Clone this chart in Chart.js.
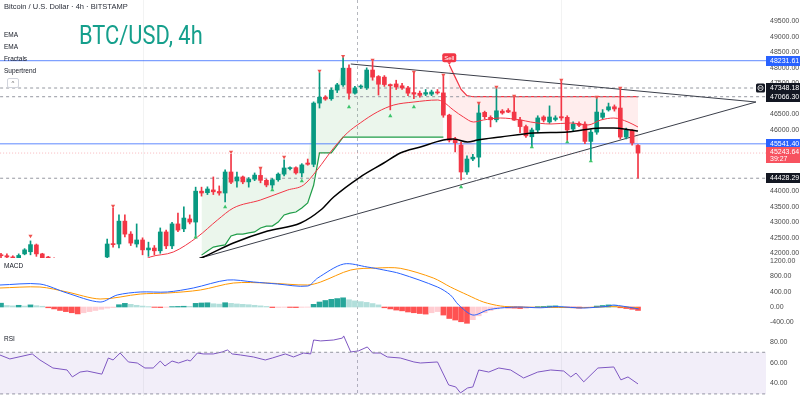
<!DOCTYPE html>
<html>
<head>
<meta charset="utf-8">
<title>BTC/USD 4h</title>
<script src="https://cdn.jsdelivr.net/npm/chart.js@4.4.1/dist/chart.umd.min.js"></script>
<style>
  html, body { margin: 0; padding: 0; background: #fff; }
  body { position: relative; width: 800px; height: 396px; overflow: hidden; font-family: "Liberation Sans", Arial, sans-serif; color: #131722; }
  canvas { position: absolute; left: 0; }
  .lbl { position: absolute; white-space: nowrap; line-height: 1; }
  .btn { position: absolute; left: 7px; top: 78px; width: 10px; height: 8px; border: 1px solid #d1d4dc; border-radius: 2px; font-size: 6px; text-align: center; line-height: 9px; color: #555; }
</style>
</head>
<body>
<canvas id="mainChart" width="800" height="258" style="top:0"></canvas>
<canvas id="macdChart" width="800" height="72" style="top:258px"></canvas>
<canvas id="rsiChart" width="800" height="66" style="top:330px"></canvas>

<div class="lbl" style="left:4px;top:3px;font-size:7.5px;color:#2a2e39">Bitcoin / U.S. Dollar · 4h · BITSTAMP</div>
<div class="lbl" style="left:79px;top:22px;font-size:26px;font-family:Roboto;color:#159f8c;transform:scaleX(.84);transform-origin:0 0">BTC/USD, 4h</div>
<div class="lbl" style="left:4px;top:32px;font-size:6.5px">EMA</div>
<div class="lbl" style="left:4px;top:44px;font-size:6.5px">EMA</div>
<div class="lbl" style="left:4px;top:56px;font-size:6.5px">Fractals</div>
<div class="lbl" style="left:4px;top:68px;font-size:6.5px">Supertrend</div>
<div class="btn">^</div>
<div class="lbl" style="left:4px;top:263px;font-size:6.5px">MACD</div>
<div class="lbl" style="left:4px;top:336px;font-size:6.5px">RSI</div>

<script>
// candles, index 0..108 (4h bars)
var opens = [41950,41920,41880,41820,41980,42050,42270,41980,41850,41820,
  41600,41400,41200,41300,41150,41250,41400,41450,41880,42300,
  42300,43040,42620,42300,42430,42110,42170,42080,42690,42240,
  42950,42790,43110,43010,44010,43960,44050,44000,43950,44630,
  44340,44470,44310,44400,44520,44360,44210,44380,44560,44740,
  44770,44600,44920,44880,46860,47050,47000,47280,47450,47990,
  47180,47380,47350,47930,47720,47700,47460,47480,47420,47350,
  47200,47180,47150,47150,47220,47190,46470,45700,45500,44630,
  45050,45110,46560,46400,46320,46600,46620,46570,46310,46100,
  45770,45990,46410,46250,46330,46420,46400,46020,46200,46180,
  45620,45920,46400,46640,46740,46700,45760,45980,45490];
var highs = [42000,41980,41920,41980,42150,42400,42300,42000,41900,41850,
  41650,41450,41350,41350,41300,41450,41550,41750,42460,43460,
  43240,43240,42700,42950,42500,42360,42250,42820,42750,43000,
  43300,43500,43240,44140,44140,44150,44470,44180,44700,45200,
  44630,44500,44450,44600,44760,44400,44420,44600,45020,44800,
  44800,44900,45050,46900,47850,47100,47350,47500,48330,48100,
  47400,47450,48000,48200,47750,47750,47480,47600,47500,47400,
  47850,47250,47300,47280,47300,47750,46500,45750,45600,45150,
  45200,46850,46600,46450,47360,46650,46680,47070,46400,46150,
  46050,46450,46450,46770,46450,47590,46450,46250,46250,46250,
  46000,47040,46650,46860,46800,47330,46050,46000,45520];
var lows = [41850,41800,41780,41760,41950,41950,41900,41800,41700,41550,
  41350,41150,41100,41050,41050,41200,41300,41400,41800,42200,
  42170,42530,42250,42200,41950,41900,41950,42000,42150,42150,
  42700,42700,42950,42550,43850,43900,43900,43880,43660,44250,
  44140,44250,44140,44350,44280,44150,44100,44330,44500,44700,
  44560,44470,44850,44800,46700,46950,46950,47200,47400,46990,
  47150,47330,47300,47600,47120,47400,46640,47300,47300,47100,
  47000,47050,47100,47100,47150,46400,45600,45280,44370,44550,
  45000,44790,46350,46090,46250,46500,46550,46300,45900,45750,
  45480,45900,46250,46200,46280,46300,45650,45950,46100,45550,
  45030,45850,46350,46600,46600,45700,45700,45500,44428.29];
var closes = [41920,41880,41850,41930,42110,42280,41980,41850,41820,41600,
  41400,41200,41300,41150,41250,41400,41450,41700,42300,42280,
  43040,42620,42330,42430,42110,42170,42080,42690,42240,42950,
  42750,43140,43010,44010,43950,44080,43990,43950,44630,44300,
  44470,44310,44400,44530,44360,44210,44380,44560,44760,44770,
  44600,44860,44880,46860,47050,46990,47280,47450,47990,47180,
  47350,47390,47930,47700,47470,47460,47420,47380,47350,47180,
  47150,47110,47200,47220,47190,46470,45660,45580,44630,45050,
  45110,46540,46420,46320,46610,46540,46570,46310,46100,45800,
  45990,46380,46310,46410,46380,46380,45990,46180,46140,45620,
  45920,46570,46540,46740,46670,45760,45990,45570,45243.64];

// EMA lines (x = bar index)
var emaFastX = [23.6,25.3,29.2,33.3,36.7,39.4,44.0,48.6,51.3,53.6,56.4,58.7,60.9,63.8,66.6,70.0,74.0,75.0,76.7,78.4,80.1,81.8,84.7,88.1,89.8,93.2,96.6,99.5,101.7,103.9,106.3,108.0];
var emaFastY = [41717,41880,42040,42527,43077,43465,43724,44047,44209,44695,45407,45892,46216,46572,46798,46895,46960,46895,46636,46410,46248,46313,46377,46313,46248,46183,46216,46151,46313,46377,46248,46086];
var emaSlowX = [32.1,34.3,39.4,45.2,50.8,54.2,56.4,60.9,64.9,67.7,71.1,75.0,76.7,79.1,80.8,84.7,90.3,96.1,101.7,103.9,106.8,108.0];
var emaSlowY = [41717,41880,42333,42720,42980,43400,43821,44468,44921,45245,45439,45665,45698,45600,45665,45762,45892,45924,46054,46054,45989,45957];

// supertrend
var stUpStart = 34;
var stUp = [41940,42070,42200,42240,42270,42560,42620,42620,42660,42690,
  42820,42880,42880,43010,43240,43300,43335,43465,43630,44200,
  45250,45250,45250,45500,45760,45760,45760,45760,45760,45760,
  45760,45760,45760,45760,45760,45760,45760,45760,45760,45760,
  45760,45760];
var stDownStart = 76;
var stDown = [48100,47700,47300,47100,47066,47066,47066,47066,47066,47066,
  47066,47066,47066,47066,47066,47066,47066,47066,47066,47066,
  47066,47066,47066,47066,47066,47066,47066,47066,47066,47066,
  47066,47066,47066];

// fractals
var fracHighX = [5,19,39,44,48,54,58,63,70,75,81,84,87,95,101,105];
var fracHighY = [42560,43530,45280,44760,45115,47900,48380,48254,47866,47770,46863,47380,47090,47607,47057,47348];
var fracLowX = [33,38,46,51,59,66,70,78,90,96,100];
var fracLowY = [42520,43497,44047,44338,46733,46442,46733,44145,45440,45600,44985];

// drawn levels and trend lines
var blueLevels = [48231.61, 45541.40];
var dashLevels = [47348.18, 47066.30, 44428.29];
var lastPrice = 45243.64;
var countdown = '39:27';
var upperTrendX = [59.3, 128.0], upperTrendY = [48125, 46895];
var lowerTrendX = [25.0, 128.0], lowerTrendY = [41374, 46895];
var crossX = 60.3;
var gridX = [24, 95];

// axis ticks
var priceTicks = [42000,42500,43000,43500,44000,44500,45000,45500,46000,46500,47000,47500,48000,48500,49000,49500];
var macdTicks = [-400, 0, 400, 800, 1200];
var rsiTicks = [40, 60, 80];

// MACD
var macdHist = [100,40,30,45,25,55,35,20,-20,-50,
  -90,-120,-150,-180,-150,-120,-90,-60,-30,-15,
  60,95,70,45,25,10,-10,-15,-8,10,
  15,20,18,95,105,110,85,75,112,95,
  80,70,60,45,30,15,-15,-12,-8,-12,
  -15,-8,-5,70,130,170,200,220,240,190,
  160,140,120,90,55,-20,-50,-80,-100,-130,
  -150,-170,-185,-150,-120,-210,-300,-340,-385,-425,
  -330,-230,-150,-90,-50,-20,-25,-30,-40,-35,
  -15,10,15,25,30,20,-15,-20,-30,-25,
  -10,25,40,55,50,-20,-40,-60,-90];
var macdX = [-0.2,6.6,11.2,16.8,19.7,23.6,28.2,32.6,38.4,42.8,46.9,52.0,53.7,58.1,62.1,64.9,67.7,74.0,76.2,77.6,80.0,82.5,84.7,87.6,91.5,94.1,96.6,98.8,102.9,103.9,107.3,108.1];
var macdY = [574,600,365,130,313,392,392,496,705,653,600,548,757,1122,1044,966,870,522,313,52,-209,-78,-26,0,-20,10,-10,-26,20,50,-26,-50];
var signalX = [-0.2,6.6,11.2,16.8,23.6,28.2,33.8,39.4,45.2,52.0,54.2,59.3,63.8,67.7,73.3,76.2,79.1,81.8,84.7,87.6,93.2,98.8,103.4,108.1];
var signalY = [496,522,392,209,339,365,444,626,626,574,653,966,1018,1010,757,522,313,130,26,0,-10,-15,10,-20];

// RSI
var rsiX = [-0.2,1.5,5.3,6.6,8.8,11.2,12.1,13.4,14.6,17.1,18.2,19.0,20.2,21.6,23.1,24.4,25.8,27.0,27.8,29.0,
  30.1,31.6,32.1,33.3,34.3,36.0,37.5,38.4,39.2,40.6,42.8,44.8,46.0,48.2,49.6,51.3,52.5,53.0,54.2,56.4,
  57.9,58.1,59.3,60.6,62.1,63.0,64.3,65.5,67.7,70.0,71.1,74.0,75.9,77.1,77.9,79.1,80.0,81.0,82.7,84.4,
  86.4,88.6,91.0,93.2,95.4,96.6,97.5,98.8,101.2,103.9,105.1,106.3,108.0];
var rsiY = [67.4,63.6,68.4,62.6,54.9,53.0,46.3,51.0,52.0,49.0,64.5,62.6,69.3,60.7,59.7,54.9,54.9,61.6,56.8,61.6,
  59.7,62.6,61.6,69.3,68.4,68.4,70.3,72.2,68.4,67.4,65.5,62.6,64.5,68.4,65.5,69.3,68.4,81.8,80.9,81.8,
  83.7,85.7,70.3,71.3,75.1,69.3,69.3,65.5,64.5,60.7,59.7,60.7,38.6,36.7,31.0,35.7,36.7,53.0,51.0,54.9,
  53.0,45.3,51.0,53.0,52.0,46.3,50.0,41.6,54.9,55.9,43.5,46.3,39.6];

var UP = '#089981', DOWN = '#f23645';
var xMin = -0.17, xMax = 129.7;

function pts(xs, ys) { return xs.map(function (x, k) { return { x: x, y: ys[k] }; }); }
function flat(v) { return [{ x: xMin - 1, y: v }, { x: xMax + 1, y: v }]; }
function line(data, color, width, extra) {
  var d = { type: 'line', data: data, borderColor: color, borderWidth: width, pointRadius: 0, pointHoverRadius: 0, fill: false };
  for (var k in extra) d[k] = extra[k];
  return d;
}

function yAxis(min, max, tickList) {
  return {
    position: 'right', min: min, max: max,
    grid: { display: false, drawTicks: false }, border: { display: false },
    ticks: {
      autoSkip: false, padding: 4, color: '#4a4a4a',
      font: { size: 7, family: 'Liberation Sans' },
      callback: function (v) { return v.toFixed(2); }
    },
    afterBuildTicks: function (a) {
      a.ticks = tickList.map(function (v) { return { value: v }; });
    },
    afterFit: function (a) { a.width = 34; a.paddingTop = 0; a.paddingBottom = 0; }
  };
}
function options(yMin, yMax, tickList) {
  return {
    responsive: false, animation: false, events: [],
    layout: { padding: 0, autoPadding: false },
    plugins: { legend: { display: false }, tooltip: { enabled: false } },
    scales: {
      x: { type: 'linear', display: false, min: xMin, max: xMax, offset: false },
      y: yAxis(yMin, yMax, tickList)
    }
  };
}

var vLines = {
  id: 'vLines',
  beforeDatasetsDraw: function (chart) {
    var ctx = chart.ctx, a = chart.chartArea, xs = chart.scales.x;
    ctx.save();
    ctx.lineWidth = 1;
    ctx.strokeStyle = 'rgba(42,46,57,0.06)';
    gridX.forEach(function (g) {
      var px = Math.round(xs.getPixelForValue(g)) + 0.5;
      ctx.beginPath(); ctx.moveTo(px, a.top); ctx.lineTo(px, a.bottom); ctx.stroke();
    });
    ctx.strokeStyle = 'rgba(120,123,134,0.55)';
    ctx.setLineDash([3, 3]);
    var cx = Math.round(xs.getPixelForValue(crossX)) + 0.5;
    ctx.beginPath(); ctx.moveTo(cx, a.top); ctx.lineTo(cx, a.bottom); ctx.stroke();
    ctx.restore();
  }
};

var priceTags = {
  id: 'priceTags',
  afterDraw: function (chart) {
    var ctx = chart.ctx, ys = chart.scales.y, xs = chart.scales.x, a = chart.chartArea;
    var tags = [[blueLevels[0], '#2962ff'], [dashLevels[0], '#131722'], [dashLevels[1], '#131722'],
      [blueLevels[1], '#2962ff'], [dashLevels[2], '#131722']];
    ctx.save();
    ctx.font = '7px "Liberation Sans"';
    ctx.textBaseline = 'middle';
    ctx.textAlign = 'left';
    tags.forEach(function (t) {
      var y = Math.round(ys.getPixelForValue(t[0]));
      ctx.fillStyle = t[1];
      ctx.fillRect(a.right, y - 5, 800 - a.right, 10);
      ctx.fillStyle = '#fff';
      ctx.fillText(t[0].toFixed(2), a.right + 4, y + 0.5);
    });
    var ly = Math.round(ys.getPixelForValue(lastPrice));
    ctx.fillStyle = '#f7525f';
    ctx.fillRect(a.right, ly - 6, 800 - a.right, 16);
    ctx.fillStyle = '#fff';
    ctx.fillText(lastPrice.toFixed(2), a.right + 4, ly - 1);
    ctx.fillText(countdown, a.right + 4, ly + 6);

    // small icon left of the first dashed tag
    var iy = Math.round(ys.getPixelForValue(dashLevels[0]));
    ctx.fillStyle = '#131722';
    ctx.beginPath(); ctx.roundRect(a.right - 10, iy - 4.5, 9, 9, 1.5); ctx.fill();
    ctx.strokeStyle = '#fff'; ctx.lineWidth = 0.8;
    ctx.beginPath(); ctx.arc(a.right - 5.5, iy, 2.6, 0, Math.PI * 2); ctx.stroke();
    ctx.beginPath(); ctx.moveTo(a.right - 7, iy); ctx.lineTo(a.right - 4, iy); ctx.stroke();

    // Sell signal label
    var sx = xs.getPixelForValue(stDownStart);
    var sy = ys.getPixelForValue(stDown[0]) - 7;
    ctx.fillStyle = DOWN;
    ctx.beginPath(); ctx.roundRect(sx - 7, sy - 4.5, 14, 9, 2); ctx.fill();
    ctx.beginPath(); ctx.moveTo(sx - 2, sy + 4.5); ctx.lineTo(sx + 2, sy + 4.5); ctx.lineTo(sx, sy + 7); ctx.fill();
    ctx.fillStyle = '#fff';
    ctx.font = '6px "Liberation Sans"';
    ctx.textAlign = 'center';
    ctx.fillText('Sell', sx, sy + 0.5);
    ctx.restore();
  }
};

var candleColors = opens.map(function (o, i) { return closes[i] >= o ? UP : DOWN; });
var bodies = opens.map(function (o, i) { return { x: i, y: [o, closes[i]] }; });
var wicks = lows.map(function (l, i) { return { x: i, y: [l, highs[i]] }; });
var closeLine = closes.map(function (c, i) { return { x: i, y: c }; });
var stUpData = stUp.map(function (v, k) { return { x: stUpStart + k, y: v }; });
var stDownData = stDown.map(function (v, k) { return { x: stDownStart + k, y: v }; });

new Chart(document.getElementById('mainChart'), {
  type: 'line',
  data: {
    datasets: [
      line(pts(upperTrendX, upperTrendY), '#3b3f4a', 1, { order: 4 }),
      line(closeLine, 'rgba(0,0,0,0)', 0, { order: 9 }),
      line(stUpData, '#1f9d48', 1.2, { order: 6, fill: { target: 1 }, backgroundColor: 'rgba(76,175,80,0.11)' }),
      line(stDownData, '#f23645', 1.2, { order: 6, fill: { target: 1 }, backgroundColor: 'rgba(255,82,82,0.1)' }),
      line(flat(blueLevels[0]), 'rgba(41,98,255,0.75)', 1, { order: 5 }),
      line(flat(blueLevels[1]), 'rgba(41,98,255,0.75)', 1, { order: 5 }),
      line(flat(dashLevels[0]), '#9598a1', 1, { order: 5, borderDash: [3, 3] }),
      line(flat(dashLevels[1]), '#9598a1', 1, { order: 5, borderDash: [3, 3] }),
      line(flat(dashLevels[2]), '#9598a1', 1, { order: 5, borderDash: [3, 3] }),
      line(flat(lastPrice), 'rgba(242,54,69,0.35)', 1, { order: 5, borderDash: [1, 2] }),
      line(pts(lowerTrendX, lowerTrendY), '#3b3f4a', 1, { order: 4 }),
      { type: 'bar', data: wicks, backgroundColor: candleColors, barThickness: 1, grouped: false, order: 3 },
      { type: 'bar', data: bodies, backgroundColor: candleColors, barThickness: 4, grouped: false, minBarLength: 1, order: 2 },
      line(pts(emaFastX, emaFastY), '#f23645', 1, { order: 1, cubicInterpolationMode: 'monotone' }),
      line(pts(emaSlowX, emaSlowY), '#000000', 1.5, { order: 1, cubicInterpolationMode: 'monotone' }),
      line(pts(fracHighX, fracHighY), DOWN, 0, { order: 0, showLine: false, pointRadius: 2.4, pointStyle: 'triangle', pointRotation: 180, pointBackgroundColor: '#ef5350', pointBorderWidth: 0 }),
      line(pts(fracLowX, fracLowY), UP, 0, { order: 0, showLine: false, pointRadius: 2.4, pointStyle: 'triangle', pointBackgroundColor: '#3cc46b', pointBorderWidth: 0 })
    ]
  },
  options: options(41847, 50196, priceTicks),
  plugins: [vLines, priceTags]
});

var histColors = macdHist.map(function (v, i) {
  var p = i > 0 ? macdHist[i - 1] : 0;
  if (v >= 0) return v >= p ? '#26a69a' : '#b2dfdb';
  return v <= p ? '#ff5252' : '#ffcdd2';
});

new Chart(document.getElementById('macdChart'), {
  type: 'line',
  data: {
    datasets: [
      { type: 'bar', data: macdHist.map(function (v, i) { return { x: i, y: v }; }), backgroundColor: histColors, barThickness: 5, grouped: false, order: 2 },
      line(pts(macdX, macdY), '#2962ff', 1, { order: 1, tension: 0.3 }),
      line(pts(signalX, signalY), '#ff9800', 1, { order: 1, tension: 0.3 })
    ]
  },
  options: options(-600, 1279, macdTicks),
  plugins: [vLines]
});

new Chart(document.getElementById('rsiChart'), {
  type: 'line',
  data: {
    datasets: [
      line(flat(70), '#9598a1', 1, { borderDash: [3, 3], fill: { target: 1 }, backgroundColor: 'rgba(126,87,194,0.1)' }),
      line(flat(30), '#9598a1', 1, { borderDash: [3, 3] }),
      line(pts(rsiX, rsiY), '#7e57c2', 1, {})
    ]
  },
  options: options(28, 91.4, rsiTicks),
  plugins: [vLines]
});
</script>
</body>
</html>
